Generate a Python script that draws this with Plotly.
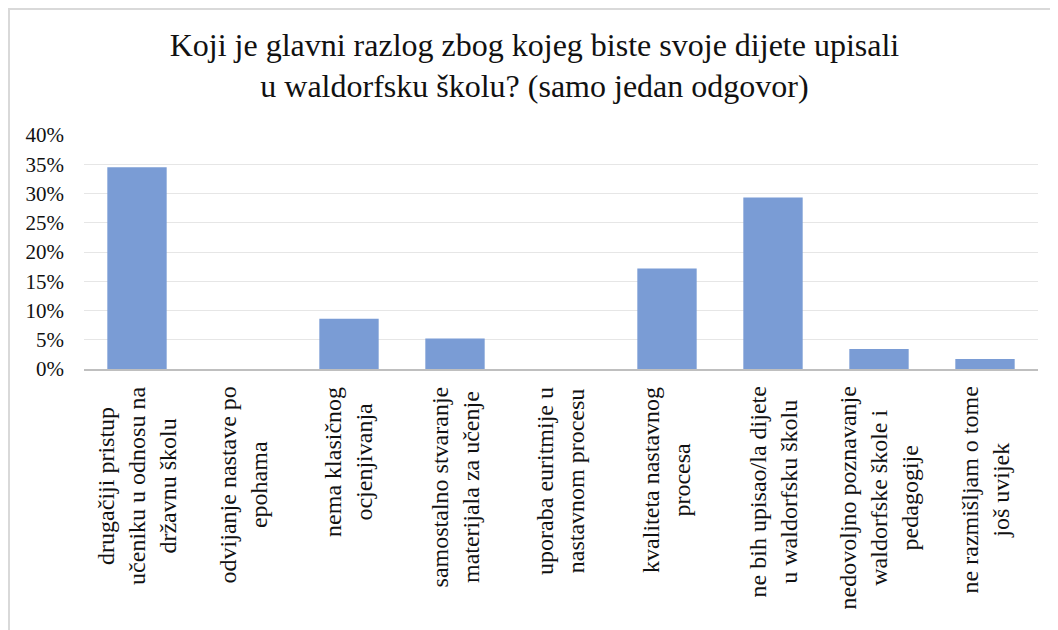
import plotly.graph_objects as go

categories = [
    "drugačiji pristup<br>učeniku u odnosu na<br>državnu školu",
    "odvijanje nastave po<br>epohama",
    "nema klasičnog<br>ocjenjivanja",
    "samostalno stvaranje<br>materijala za učenje",
    "uporaba euritmije u<br>nastavnom procesu",
    "kvaliteta nastavnog<br>procesa",
    "ne bih upisao/la dijete<br>u waldorfsku školu",
    "nedovoljno poznavanje<br>waldorfske škole i<br>pedagogije",
    "ne razmišljam o tome<br>još uvijek",
]
values = [0.345, 0.0, 0.086, 0.052, 0.0, 0.172, 0.293, 0.034, 0.017]
ytick_vals = [0, 0.05, 0.10, 0.15, 0.20, 0.25, 0.30, 0.35, 0.40]
ytick_text = ["0%", "5%", "10%", "15%", "20%", "25%", "30%", "35%", "40%"]
title_text = ("Koji je glavni razlog zbog kojeg biste svoje dijete upisali"
              "<br>u waldorfsku školu? (samo jedan odgovor)")

SERIF = "Liberation Serif"

x_ids = list(range(len(categories)))

fig = go.Figure()
fig.add_trace(go.Bar(
    x=x_ids, y=values,
    marker=dict(color="#7A9CD5", line=dict(width=0)),
    width=0.56,
    hoverinfo="skip",
))

annotations = []
for i, lab in enumerate(categories):
    annotations.append(dict(
        x=i, xref="x", y=-0.068, yref="paper",
        text=lab, textangle=-90, showarrow=False,
        xanchor="center", yanchor="top", align="center",
        font=dict(family=SERIF, size=24, color="#111111"),
    ))

fig.update_layout(
    width=1058, height=630,
    margin=dict(l=76, r=28, t=127, b=269),
    paper_bgcolor="white", plot_bgcolor="white",
    showlegend=False,
    title=dict(
        text=title_text, x=0.4976, xanchor="center", xref="container",
        y=0.924, yanchor="top", yref="container",
        font=dict(family=SERIF, size=32, color="#111111"),
    ),
    xaxis=dict(
        range=[-0.5, len(categories) - 0.5],
        showticklabels=False, showgrid=False,
        showline=True, linecolor="#BFBFBF", linewidth=2,
        ticks="", zeroline=False, fixedrange=True,
    ),
    yaxis=dict(
        range=[0, 0.4], tickvals=ytick_vals, ticktext=ytick_text,
        showgrid=True, gridcolor="#E6E6E6", gridwidth=1,
        zeroline=False, showline=False, ticks="",
        ticklabelstandoff=19,
        tickfont=dict(family=SERIF, size=21, color="#111111"),
    ),
    annotations=annotations,
    shapes=[dict(
        type="rect", xref="paper", yref="paper",
        x0=-0.0786, x1=1.05, y0=-1.41, y1=1.5385,
        line=dict(color="#D9D9D9", width=2), fillcolor="rgba(0,0,0,0)",
        layer="below",
    )],
)

fig.write_html("out.html")
